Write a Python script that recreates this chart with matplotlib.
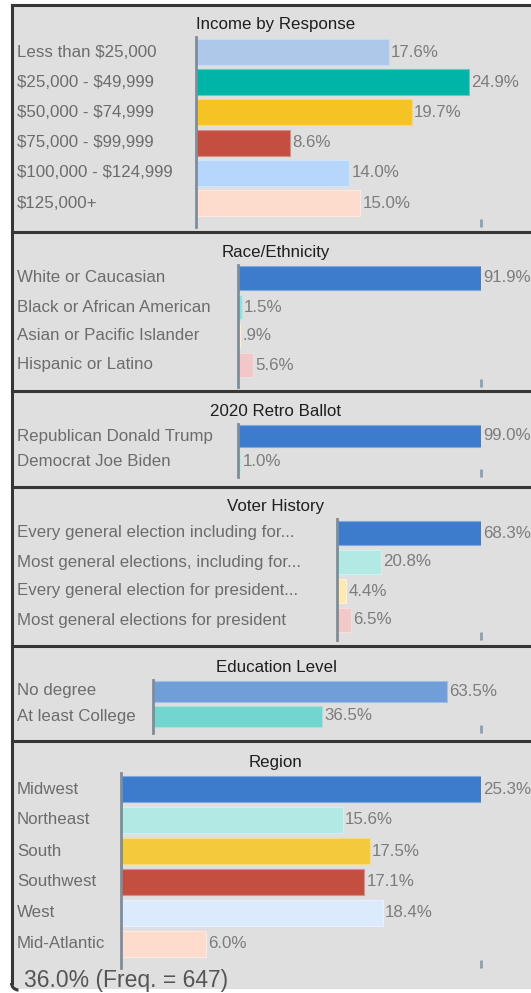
import matplotlib.pyplot as plt
import matplotlib.transforms as mtransforms
from matplotlib.patches import Rectangle, Arc
from matplotlib.lines import Line2D
from matplotlib.colors import to_rgb

plt.rcParams['font.family'] = ['Liberation Sans', 'DejaVu Sans']
plt.rcParams['text.parse_math'] = False

# ---- survey crosstab data ----
income_labels = ['Less than $25,000', '$25,000 - $49,999', '$50,000 - $74,999',
                 '$75,000 - $99,999', '$100,000 - $124,999', '$125,000+']
income_values = [17.6, 24.9, 19.7, 8.6, 14.0, 15.0]

race_labels = ['White or Caucasian', 'Black or African American',
               'Asian or Pacific Islander', 'Hispanic or Latino']
race_values = [91.9, 1.5, 0.9, 5.6]

ballot_labels = ['Republican Donald Trump', 'Democrat Joe Biden']
ballot_values = [99.0, 1.0]

voter_labels = ['Every general election including for...',
                'Most general elections, including for...',
                'Every general election for president...',
                'Most general elections for president']
voter_values = [68.3, 20.8, 4.4, 6.5]

edu_labels = ['No degree', 'At least College']
edu_values = [63.5, 36.5]

region_labels = ['Midwest', 'Northeast', 'South', 'Southwest', 'West', 'Mid-Atlantic']
region_values = [25.3, 15.6, 17.5, 17.1, 18.4, 6.0]

footer = '36.0% (Freq. = 647)'

# colours
income_colors = ['#aec8ea', '#00b4a8', '#f5c424', '#c44f41', '#b6d6fb', '#fddccd']
race_colors = ['#3d7bcc', '#8fe1de', '#fbe7ad', '#f1c7c7']
ballot_colors = ['#3d7bcc', '#8fe1de']
voter_colors = ['#3d7bcc', '#b2e9e4', '#fde9b2', '#f1c9c9']
edu_colors = ['#6f9ed9', '#72d6cf']
region_colors = ['#3d7bcc', '#b2e9e4', '#f5c93c', '#c44f41', '#dbeafc', '#fddccd']

# layout in pixels: title y, axis x, axis top, axis bottom, first bar centre,
# bar spacing, bar height, x limit
panels = [
    ('Income by Response', income_labels, income_values, income_colors,
     (25, 196, 37, 227, 52, 30.2, 26, 26.0)),
    ('Race/Ethnicity', race_labels, race_values, race_colors,
     (252, 238, 265, 387, 278, 29, 24, 91.9)),
    ('2020 Retro Ballot', ballot_labels, ballot_values, ballot_colors,
     (412, 238, 424, 477, 436, 26, 22, 99.0)),
    ('Voter History', voter_labels, voter_values, voter_colors,
     (507, 337, 519, 640, 533, 29, 24, 68.3)),
    ('Education Level', edu_labels, edu_values, edu_colors,
     (668, 153, 680, 733, 691, 25, 21, 70.8)),
    ('Region', region_labels, region_values, region_colors,
     (762, 121, 773, 968, 789, 31, 26, 25.3)),
]
separators = [232, 391, 487, 646, 741]

W, H = 531, 993
AXIS_RIGHT = 481
FS = 12.2

fig = plt.figure(figsize=(W / 100, H / 100), dpi=100)
fig.patch.set_facecolor('white')


def fy(y):
    return 1 - y / H


def lighten(c, amt=0.35):
    r, g, b = to_rgb(c)
    return (r + (1 - r) * amt, g + (1 - g) * amt, b + (1 - b) * amt)


def pct(v):
    s = '{0:.1f}'.format(v)
    if s.startswith('0'):
        s = s[1:]
    return s + '%'


# grey panel body and frame
fig.add_artist(Rectangle((11.5 / W, fy(989)), 1 - 11.5 / W, (989 - 4.5) / H,
                         transform=fig.transFigure, facecolor='#dfdfdf',
                         edgecolor='none', zorder=0))
frame = dict(color='#363636', lw=2.2, zorder=5)
fig.add_artist(Line2D([11.5 / W, 1], [fy(4.5)] * 2, **frame))
fig.add_artist(Line2D([11.5 / W] * 2, [fy(4.5), fy(983)], **frame))
fig.add_artist(Arc(((11.5 + 7) / W, fy(983)), 14 / W, 14 / H, theta1=180, theta2=270,
                   transform=fig.transFigure, color='#363636', lw=2.2, zorder=5))
for y in separators:
    fig.add_artist(Line2D([11.5 / W, 1], [fy(y)] * 2, **frame))

for title, labels, values, colors, geo in panels:
    ty, ax_x, top, bot, c0, sp, bh, xmax = geo
    ax = fig.add_axes([ax_x / W, fy(bot), (AXIS_RIGHT - ax_x) / W, (bot - top) / H])
    ax.set_facecolor('none')
    ax.set_xlim(0, xmax)
    ax.set_ylim((bot - c0) / sp, (top - c0) / sp)

    ypos = list(range(len(values)))
    ax.barh(ypos, values, height=bh / sp, color=colors,
            edgecolor=[lighten(c) for c in colors], linewidth=0.8, zorder=2)

    trans = mtransforms.blended_transform_factory(fig.transFigure, ax.transData)
    for i, (lab, v) in enumerate(zip(labels, values)):
        ax.text(17 / W, i, lab, transform=trans, ha='left', va='center',
                fontsize=FS, color='#6c6c6c')
        ax.annotate(pct(v), (v, i), xytext=(1.5, 0), textcoords='offset points',
                    ha='left', va='center', fontsize=FS, color='#7c7c7c',
                    annotation_clip=False)

    for s in ['top', 'right', 'bottom']:
        ax.spines[s].set_visible(False)
    ax.spines['left'].set_color('#7f8c99')
    ax.spines['left'].set_linewidth(2)
    ax.set_yticks([])
    ax.set_xticks([xmax])
    ax.tick_params(axis='x', direction='in', length=6, width=2,
                   color='#8e9db0', labelbottom=False)

    fig.text(276 / W, fy(ty), title, ha='center', va='center',
             fontsize=FS, color='#1e1e1e')

fig.text(24 / W, fy(980), footer, ha='left', va='center',
         fontsize=16.5, color='#555555', zorder=6)

fig.savefig('out.png', dpi=100)
